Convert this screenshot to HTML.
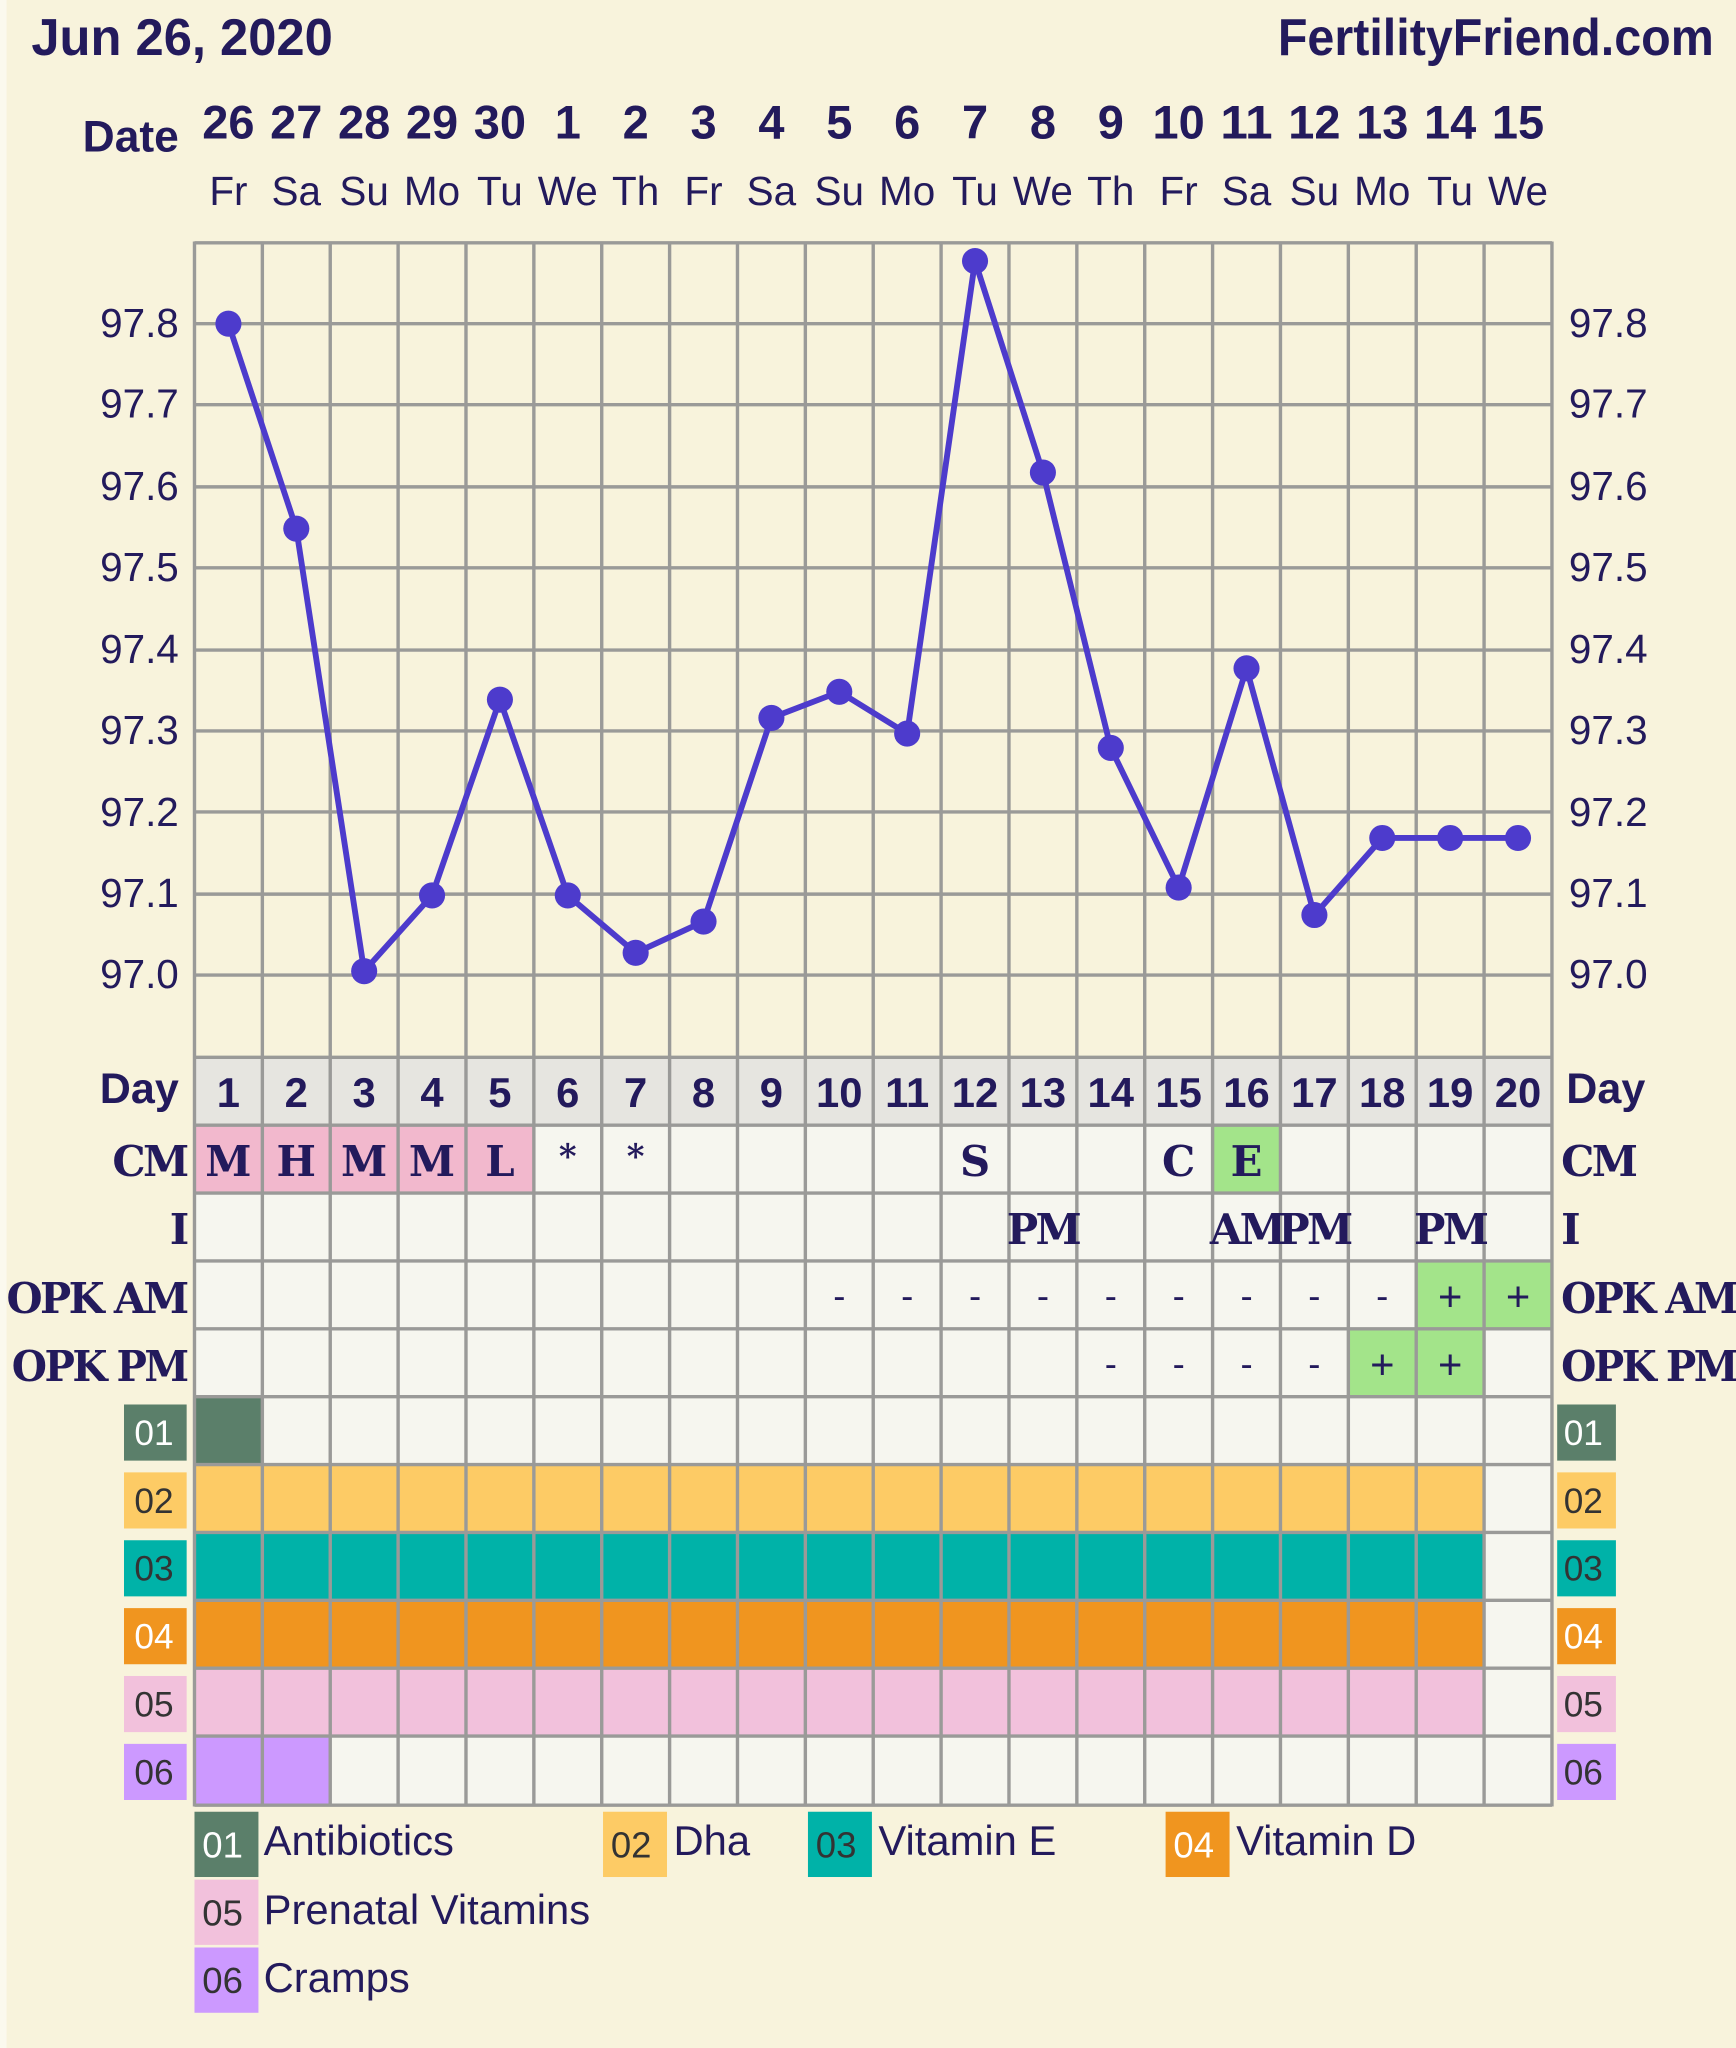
<!DOCTYPE html>
<html><head><meta charset="utf-8"><style>
html,body{margin:0;padding:0;background:#f8f3dc;}
svg{display:block}
.t{font-family:"Liberation Sans Narrow","Liberation Sans",sans-serif;font-weight:bold;fill:#231a5c}
.s{font-family:"Liberation Sans",sans-serif;fill:#231a5c}
.b{font-family:"Liberation Sans",sans-serif;font-weight:bold;fill:#231a5c}
.sl{font-family:"DejaVu Serif","Liberation Serif",serif;font-weight:bold;fill:#231a5c}
.tg{font-family:"Liberation Sans Narrow","Liberation Sans",sans-serif;fill:#333}
</style></head><body>
<svg width="1736" height="2048" viewBox="0 0 1330 1569" preserveAspectRatio="none" xmlns="http://www.w3.org/2000/svg">
<rect x="0" y="0" width="1330" height="1569" fill="#f8f3dc"/>
<rect x="0" y="0" width="5" height="1569" fill="#fbf9ee"/>
<text class="t" x="24" y="42" font-size="40" textLength="231" lengthAdjust="spacingAndGlyphs">Jun 26, 2020</text>
<text class="t" x="979" y="42" font-size="40" textLength="334" lengthAdjust="spacingAndGlyphs">FertilityFriend.com</text>
<text class="t" x="137" y="116" font-size="34" text-anchor="end">Date</text>
<g class="t" font-size="36" text-anchor="middle">
<text x="175" y="106">26</text><text x="227" y="106">27</text><text x="279" y="106">28</text><text x="331" y="106">29</text><text x="383" y="106">30</text><text x="435" y="106">1</text><text x="487" y="106">2</text><text x="539" y="106">3</text><text x="591" y="106">4</text><text x="643" y="106">5</text><text x="695" y="106">6</text><text x="747" y="106">7</text><text x="799" y="106">8</text><text x="851" y="106">9</text><text x="903" y="106" textLength="40" lengthAdjust="spacingAndGlyphs">10</text><text x="955" y="106" textLength="40" lengthAdjust="spacingAndGlyphs">11</text><text x="1007" y="106" textLength="40" lengthAdjust="spacingAndGlyphs">12</text><text x="1059" y="106" textLength="40" lengthAdjust="spacingAndGlyphs">13</text><text x="1111" y="106" textLength="40" lengthAdjust="spacingAndGlyphs">14</text><text x="1163" y="106" textLength="40" lengthAdjust="spacingAndGlyphs">15</text>
</g>
<g class="s" font-size="31" text-anchor="middle">
<text x="175" y="157">Fr</text><text x="227" y="157">Sa</text><text x="279" y="157">Su</text><text x="331" y="157">Mo</text><text x="383" y="157">Tu</text><text x="435" y="157">We</text><text x="487" y="157">Th</text><text x="539" y="157">Fr</text><text x="591" y="157">Sa</text><text x="643" y="157">Su</text><text x="695" y="157">Mo</text><text x="747" y="157">Tu</text><text x="799" y="157">We</text><text x="851" y="157">Th</text><text x="903" y="157">Fr</text><text x="955" y="157">Sa</text><text x="1007" y="157">Su</text><text x="1059" y="157">Mo</text><text x="1111" y="157">Tu</text><text x="1163" y="157">We</text>
</g>
<g class="s" font-size="31">
<g text-anchor="end">
<text x="137" y="258">97.8</text><text x="137" y="320">97.7</text><text x="137" y="383">97.6</text><text x="137" y="445">97.5</text><text x="137" y="508">97.4</text><text x="137" y="570">97.3</text><text x="137" y="633">97.2</text><text x="137" y="695">97.1</text><text x="137" y="757">97.0</text>
</g>
<text x="1202" y="258">97.8</text><text x="1202" y="320">97.7</text><text x="1202" y="383">97.6</text><text x="1202" y="445">97.5</text><text x="1202" y="508">97.4</text><text x="1202" y="570">97.3</text><text x="1202" y="633">97.2</text><text x="1202" y="695">97.1</text><text x="1202" y="757">97.0</text>
</g>
<rect x="149" y="810" width="1040" height="52" fill="#e6e5e0"/>
<rect x="149" y="862" width="1040" height="520" fill="#f6f6ef"/>
<rect x="149" y="862" width="260" height="52" fill="#f2b8cd"/>
<rect x="929" y="862" width="52" height="52" fill="#a3e48a"/>
<rect x="1085" y="966" width="104" height="52" fill="#a3e48a"/>
<rect x="1033" y="1018" width="104" height="52" fill="#a3e48a"/>
<rect x="149" y="1070" width="52" height="52" fill="#5b7f6a"/>
<rect x="149" y="1122" width="988" height="52" fill="#fdcb65"/>
<rect x="149" y="1174" width="988" height="52" fill="#00b2a8"/>
<rect x="149" y="1226" width="988" height="52" fill="#f0951f"/>
<rect x="149" y="1278" width="988" height="52" fill="#f2c1dc"/>
<rect x="149" y="1330" width="104" height="52" fill="#cc99ff"/>
<g stroke="#9a9a98" stroke-width="2.6">
<line x1="149" y1="185" x2="149" y2="1384"/><line x1="201" y1="185" x2="201" y2="1384"/><line x1="253" y1="185" x2="253" y2="1384"/><line x1="305" y1="185" x2="305" y2="1384"/><line x1="357" y1="185" x2="357" y2="1384"/><line x1="409" y1="185" x2="409" y2="1384"/><line x1="461" y1="185" x2="461" y2="1384"/><line x1="513" y1="185" x2="513" y2="1384"/><line x1="565" y1="185" x2="565" y2="1384"/><line x1="617" y1="185" x2="617" y2="1384"/><line x1="669" y1="185" x2="669" y2="1384"/><line x1="721" y1="185" x2="721" y2="1384"/><line x1="773" y1="185" x2="773" y2="1384"/><line x1="825" y1="185" x2="825" y2="1384"/><line x1="877" y1="185" x2="877" y2="1384"/><line x1="929" y1="185" x2="929" y2="1384"/><line x1="981" y1="185" x2="981" y2="1384"/><line x1="1033" y1="185" x2="1033" y2="1384"/><line x1="1085" y1="185" x2="1085" y2="1384"/><line x1="1137" y1="185" x2="1137" y2="1384"/><line x1="1189" y1="185" x2="1189" y2="1384"/>
<line x1="149" y1="186" x2="1189" y2="186"/><line x1="149" y1="248" x2="1189" y2="248"/><line x1="149" y1="310" x2="1189" y2="310"/><line x1="149" y1="373" x2="1189" y2="373"/><line x1="149" y1="435" x2="1189" y2="435"/><line x1="149" y1="498" x2="1189" y2="498"/><line x1="149" y1="560" x2="1189" y2="560"/><line x1="149" y1="622" x2="1189" y2="622"/><line x1="149" y1="685" x2="1189" y2="685"/><line x1="149" y1="747" x2="1189" y2="747"/><line x1="149" y1="810" x2="1189" y2="810"/>
<line x1="149" y1="862" x2="1189" y2="862"/><line x1="149" y1="914" x2="1189" y2="914"/><line x1="149" y1="966" x2="1189" y2="966"/><line x1="149" y1="1018" x2="1189" y2="1018"/><line x1="149" y1="1070" x2="1189" y2="1070"/><line x1="149" y1="1122" x2="1189" y2="1122"/><line x1="149" y1="1174" x2="1189" y2="1174"/><line x1="149" y1="1226" x2="1189" y2="1226"/><line x1="149" y1="1278" x2="1189" y2="1278"/><line x1="149" y1="1330" x2="1189" y2="1330"/><line x1="149" y1="1383" x2="1189" y2="1383"/>
</g>
<polyline fill="none" stroke="#4d3bcc" stroke-width="4.5" stroke-linejoin="round" points="175,248 227,405 279,744 331,686 383,536 435,686 487,730 539,706 591,550 643,530 695,562 747,200 799,362 851,573 903,680 955,512 1007,701 1059,642 1111,642 1163,642"/>
<g fill="#4d3bcc">
<circle cx="175" cy="248" r="10"/><circle cx="227" cy="405" r="10"/><circle cx="279" cy="744" r="10"/><circle cx="331" cy="686" r="10"/><circle cx="383" cy="536" r="10"/><circle cx="435" cy="686" r="10"/><circle cx="487" cy="730" r="10"/><circle cx="539" cy="706" r="10"/><circle cx="591" cy="550" r="10"/><circle cx="643" cy="530" r="10"/><circle cx="695" cy="562" r="10"/><circle cx="747" cy="200" r="10"/><circle cx="799" cy="362" r="10"/><circle cx="851" cy="573" r="10"/><circle cx="903" cy="680" r="10"/><circle cx="955" cy="512" r="10"/><circle cx="1007" cy="701" r="10"/><circle cx="1059" cy="642" r="10"/><circle cx="1111" cy="642" r="10"/><circle cx="1163" cy="642" r="10"/>
</g>
<g class="b" font-size="32" text-anchor="middle">
<text x="175" y="848">1</text><text x="227" y="848">2</text><text x="279" y="848">3</text><text x="331" y="848">4</text><text x="383" y="848">5</text><text x="435" y="848">6</text><text x="487" y="848">7</text><text x="539" y="848">8</text><text x="591" y="848">9</text><text x="643" y="848">10</text><text x="695" y="848">11</text><text x="747" y="848">12</text><text x="799" y="848">13</text><text x="851" y="848">14</text><text x="903" y="848">15</text><text x="955" y="848">16</text><text x="1007" y="848">17</text><text x="1059" y="848">18</text><text x="1111" y="848">19</text><text x="1163" y="848">20</text>
</g>
<g class="t" font-size="33"><text x="137" y="845" text-anchor="end">Day</text><text x="1200" y="845">Day</text></g>
<g class="sl" font-size="32" letter-spacing="-2">
<g text-anchor="end">
<text x="143" y="901">CM</text><text x="143" y="953">I</text>
</g>
<text x="5" y="1006" textLength="138" lengthAdjust="spacingAndGlyphs">OPK AM</text><text x="9" y="1058" textLength="134" lengthAdjust="spacingAndGlyphs">OPK PM</text>
<text x="1196" y="901">CM</text><text x="1196" y="953">I</text><text x="1196" y="1006" textLength="134" lengthAdjust="spacingAndGlyphs">OPK AM</text><text x="1196" y="1058" textLength="134" lengthAdjust="spacingAndGlyphs">OPK PM</text>
</g>
<g class="sl" font-size="32" text-anchor="middle">
<text x="175" y="901">M</text><text x="227" y="901">H</text><text x="279" y="901">M</text><text x="331" y="901">M</text><text x="383" y="901">L</text>
<text x="435" y="895" font-size="26">*</text><text x="487" y="895" font-size="26">*</text>
<text x="747" y="901">S</text><text x="903" y="901">C</text><text x="955" y="901">E</text>
<g letter-spacing="-2"><text x="799" y="953">PM</text><text x="955" y="953">AM</text><text x="1007" y="953">PM</text><text x="1111" y="953">PM</text></g>
</g>
<g class="s" font-size="28" text-anchor="middle">
<text x="643" y="1002">-</text><text x="695" y="1002">-</text><text x="747" y="1002">-</text><text x="799" y="1002">-</text><text x="851" y="1002">-</text><text x="903" y="1002">-</text><text x="955" y="1002">-</text><text x="1007" y="1002">-</text><text x="1059" y="1002">-</text>
<text x="1111" y="1004" font-size="32">+</text><text x="1163" y="1004" font-size="32">+</text>
<text x="851" y="1054">-</text><text x="903" y="1054">-</text><text x="955" y="1054">-</text><text x="1007" y="1054">-</text>
<text x="1059" y="1056" font-size="32">+</text><text x="1111" y="1056" font-size="32">+</text>
</g>
<rect x="95" y="1076" width="48" height="43" fill="#5b7f6a"/><rect x="1193" y="1076" width="45" height="43" fill="#5b7f6a"/>
<rect x="95" y="1128" width="48" height="43" fill="#fdcb65"/><rect x="1193" y="1128" width="45" height="43" fill="#fdcb65"/>
<rect x="95" y="1180" width="48" height="43" fill="#00b2a8"/><rect x="1193" y="1180" width="45" height="43" fill="#00b2a8"/>
<rect x="95" y="1232" width="48" height="43" fill="#f0951f"/><rect x="1193" y="1232" width="45" height="43" fill="#f0951f"/>
<rect x="95" y="1284" width="48" height="43" fill="#f2c1dc"/><rect x="1193" y="1284" width="45" height="43" fill="#f2c1dc"/>
<rect x="95" y="1336" width="48" height="43" fill="#cc99ff"/><rect x="1193" y="1336" width="45" height="43" fill="#cc99ff"/>
<g class="tg" font-size="27">
<text x="103" y="1107" style="fill:#fff">01</text><text x="1198" y="1107" style="fill:#fff">01</text>
<text x="103" y="1159">02</text><text x="1198" y="1159">02</text>
<text x="103" y="1211">03</text><text x="1198" y="1211">03</text>
<text x="103" y="1263" style="fill:#fff">04</text><text x="1198" y="1263" style="fill:#fff">04</text>
<text x="103" y="1315">05</text><text x="1198" y="1315">05</text>
<text x="103" y="1367">06</text><text x="1198" y="1367">06</text>
</g>
<rect x="149" y="1388" width="49" height="50" fill="#5b7f6a"/>
<rect x="462" y="1388" width="49" height="50" fill="#fdcb65"/>
<rect x="619" y="1388" width="49" height="50" fill="#00b2a8"/>
<rect x="893" y="1388" width="49" height="50" fill="#f0951f"/>
<rect x="149" y="1440" width="49" height="50" fill="#f2c1dc"/>
<rect x="149" y="1492" width="49" height="50" fill="#cc99ff"/>
<g class="tg" font-size="28">
<text x="155" y="1423" style="fill:#fff">01</text><text x="468" y="1423">02</text><text x="625" y="1423">03</text><text x="899" y="1423" style="fill:#fff">04</text>
<text x="155" y="1475">05</text><text x="155" y="1527">06</text>
</g>
<g class="s" font-size="32">
<text x="202" y="1421">Antibiotics</text><text x="516" y="1421">Dha</text><text x="673" y="1421">Vitamin E</text><text x="947" y="1421">Vitamin D</text>
<text x="202" y="1474">Prenatal Vitamins</text><text x="202" y="1526">Cramps</text>
</g>
</svg>
</body></html>
